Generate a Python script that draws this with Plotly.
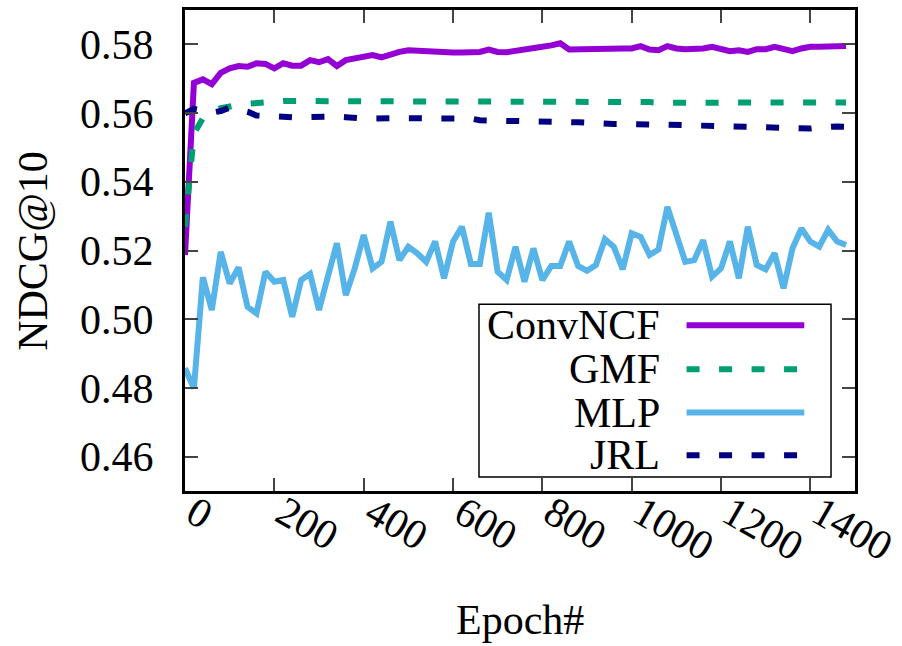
import plotly.graph_objects as go

epochs = list(range(0, 1500, 20))

convncf = [0.5187, 0.5688, 0.5698, 0.5684, 0.5717, 0.5730, 0.5737, 0.5735, 0.5745, 0.5743,
           0.5730, 0.5745, 0.5738, 0.5738, 0.5754, 0.5748, 0.5757, 0.5737, 0.5754, 0.5759,
           0.5766, 0.5769, 0.5762, 0.5771, 0.5778, 0.5783, 0.5781, 0.5781, 0.5778, 0.5776,
           0.5776, 0.5776, 0.5778, 0.5778, 0.5785, 0.5778, 0.5777, 0.5782, 0.5787, 0.5788,
           0.5793, 0.5797, 0.5803, 0.5785, 0.5786, 0.5788, 0.5785, 0.5790, 0.5788, 0.5788,
           0.5788, 0.5795, 0.5785, 0.5783, 0.5795, 0.5788, 0.5786, 0.5785, 0.5788, 0.5793,
           0.5788, 0.5780, 0.5783, 0.5778, 0.5786, 0.5786, 0.5793, 0.5785, 0.5780, 0.5788,
           0.5793, 0.5793, 0.5793, 0.5795, 0.5795]

gmf = [0.5269, 0.5540, 0.5585, 0.5605, 0.5614, 0.5620, 0.5624, 0.5627, 0.5630, 0.5632,
       0.5634, 0.5635, 0.5635, 0.5635, 0.5635, 0.5635, 0.5635, 0.5635, 0.5635, 0.5635,
       0.5635, 0.5634, 0.5634, 0.5633, 0.5633, 0.5633, 0.5633, 0.5633, 0.5633, 0.5633,
       0.5633, 0.5633, 0.5633, 0.5633, 0.5633, 0.5633, 0.5634, 0.5635, 0.5635, 0.5634,
       0.5633, 0.5633, 0.5632, 0.5631, 0.5631, 0.5632, 0.5634, 0.5635, 0.5634, 0.5633,
       0.5633, 0.5633, 0.5632, 0.5630, 0.5630, 0.5630, 0.5629, 0.5628, 0.5628, 0.5628,
       0.5628, 0.5628, 0.5628, 0.5629, 0.5630, 0.5631, 0.5631, 0.5630, 0.5628, 0.5629,
       0.5630, 0.5631, 0.5631, 0.5631, 0.5631]

mlp = [0.4857, 0.4799, 0.5122, 0.5027, 0.5196, 0.5104, 0.5151, 0.5036, 0.5017, 0.5138,
       0.5109, 0.5114, 0.5007, 0.5114, 0.5132, 0.5027, 0.5125, 0.5221, 0.5070, 0.5148,
       0.5245, 0.5148, 0.5167, 0.5284, 0.5172, 0.5211, 0.5192, 0.5167, 0.5226, 0.5119,
       0.5226, 0.5269, 0.5161, 0.5161, 0.5310, 0.5138, 0.5114, 0.5211, 0.5109, 0.5206,
       0.5114, 0.5155, 0.5155, 0.5226, 0.5155, 0.5141, 0.5158, 0.5233, 0.5211, 0.5145,
       0.5250, 0.5240, 0.5187, 0.5203, 0.5327, 0.5247, 0.5167, 0.5172, 0.5230, 0.5124,
       0.5148, 0.5226, 0.5119, 0.5269, 0.5158, 0.5145, 0.5192, 0.5090, 0.5206, 0.5264,
       0.5226, 0.5211, 0.5260, 0.5226, 0.5216]

jrl = [0.5599, 0.5612, 0.5607, 0.5601, 0.5606, 0.5616, 0.5610, 0.5604, 0.5593, 0.5591,
       0.5591, 0.5591, 0.5588, 0.5588, 0.5589, 0.5589, 0.5589, 0.5590, 0.5588, 0.5585,
       0.5584, 0.5584, 0.5583, 0.5584, 0.5585, 0.5585, 0.5585, 0.5584, 0.5583, 0.5582,
       0.5582, 0.5583, 0.5584, 0.5579, 0.5577, 0.5577, 0.5577, 0.5577, 0.5577, 0.5577,
       0.5576, 0.5575, 0.5574, 0.5573, 0.5573, 0.5572, 0.5570, 0.5567, 0.5568, 0.5568,
       0.5568, 0.5569, 0.5568, 0.5566, 0.5565, 0.5565, 0.5565, 0.5564, 0.5563, 0.5563,
       0.5562, 0.5561, 0.5560, 0.5559, 0.5558, 0.5557, 0.5557, 0.5557, 0.5557, 0.5554,
       0.5555, 0.5558, 0.5561, 0.5561, 0.5560]

series_names = ["ConvNCF", "GMF", "MLP", "JRL"]
series_values = [convncf, gmf, mlp, jrl]
colors = ["#9400D3", "#009E73", "#56B4E9", "#000080"]
dashes = ["solid", "13px,19.5px", "solid", "13px,19.5px"]

x_ticks = [0, 200, 400, 600, 800, 1000, 1200, 1400]
x_tick_text = ["0", "200", "400", "600", "800", "1000", "1200", "1400"]
y_ticks = [0.46, 0.48, 0.50, 0.52, 0.54, 0.56, 0.58]
y_tick_text = ["0.46", "0.48", "0.50", "0.52", "0.54", "0.56", "0.58"]

FONT = "Times New Roman, Liberation Serif, Tinos, Times, serif"
FS = 42

fig = go.Figure()
for name, vals, col, dsh in zip(series_names, series_values, colors, dashes):
    fig.add_trace(go.Scatter(x=epochs, y=vals, mode="lines", name=name,
                             line=dict(color=col, width=6, dash=dsh),
                             showlegend=False, hoverinfo="skip"))

# custom gnuplot-style legend (text left, sample right)
shapes = [dict(type="rect", xref="paper", yref="paper", x0=0.4388, x1=0.9642,
               y0=0.0291, y1=0.3884, line=dict(color="black", width=1.5),
               fillcolor="white", layer="above")]
annotations = []
row_y = [0.3447, 0.2532, 0.1631, 0.0742]
for name, col, dsh, ry in zip(series_names, colors, dashes, row_y):
    shapes.append(dict(type="line", xref="paper", yref="paper", x0=0.7486, x1=0.9243,
                       y0=ry, y1=ry, line=dict(color=col, width=6, dash=dsh),
                       layer="above"))
    annotations.append(dict(text=name, xref="paper", yref="paper", x=0.7113, y=ry,
                            xanchor="right", yanchor="middle", showarrow=False,
                            font=dict(family=FONT, size=FS, color="black")))

annotations.append(dict(text="Epoch#", xref="paper", yref="paper", x=0.5, y=-0.269,
                        xanchor="center", yanchor="middle", showarrow=False,
                        font=dict(family=FONT, size=FS, color="black")))
annotations.append(dict(text="NDCG@10", xref="paper", yref="paper", x=-0.2278, y=0.5,
                        xanchor="center", yanchor="middle", showarrow=False, textangle=-90,
                        font=dict(family=FONT, size=FS, color="black")))

fig.update_layout(
    width=902, height=646,
    margin=dict(l=185, r=47, t=10, b=155, pad=0),
    paper_bgcolor="white", plot_bgcolor="white",
    font=dict(family=FONT, size=FS, color="black"),
    shapes=shapes, annotations=annotations,
    xaxis=dict(range=[0, 1500], tickvals=x_ticks,
               ticktext=["\u00a0" + t for t in x_tick_text],
               tickangle=30, ticks="inside", ticklen=13, tickwidth=1.5, tickcolor="#444",
               showline=True, linewidth=3, linecolor="black", mirror="ticks",
               showgrid=False, zeroline=False, automargin=False,
               ticklabelstandoff=-27,
               tickfont=dict(family=FONT, size=FS, color="black")),
    yaxis=dict(range=[0.45, 0.59], tickvals=y_ticks, ticktext=y_tick_text,
               ticks="inside", ticklen=13, tickwidth=1.5, tickcolor="#444",
               showline=True, linewidth=3, linecolor="black", mirror="ticks",
               showgrid=False, zeroline=False, ticklabelstandoff=20, automargin=False,
               tickfont=dict(family=FONT, size=FS, color="black")),
)

fig.write_html("out.html", config={"displayModeBar": False},
               post_script="document.body.style.margin='0';document.body.style.padding='0';")
